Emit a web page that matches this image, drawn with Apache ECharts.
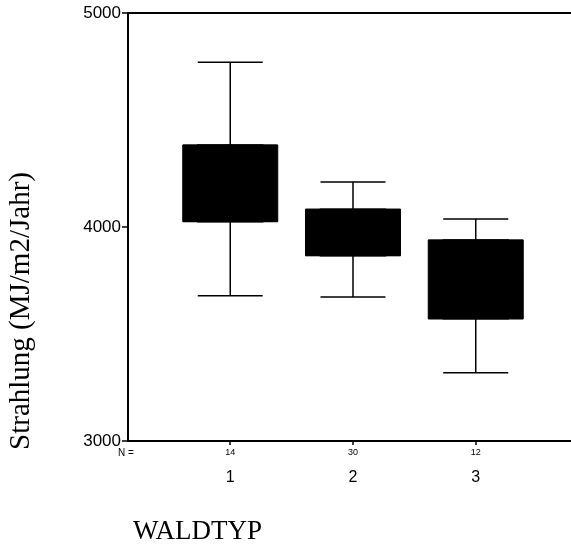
<!DOCTYPE html>
<html>
<head>
<meta charset="utf-8">
<script src="https://cdn.jsdelivr.net/npm/echarts@6/dist/echarts.min.js"></script>
<style>
  html, body { margin: 0; padding: 0; background: #fff; }
  #chart { width: 571px; height: 548px; }
</style>
</head>
<body>
<div id="chart"></div>
<script>
// Strahlung by Waldtyp, boxplot
var categories = ['1', '2', '3'];
var catPos = [1, 2, 3];
var nCounts = [14, 30, 12];
var mins = [3679, 3673, 3319];
var q1s = [4025, 3866, 3571];
var medians = [4200, 3980, 3780];
var q3s = [4383, 4083, 3939];
var maxs = [4770, 4210, 4037];

var whiskerData = catPos.map(function (x, i) {
  return [x, mins[i], q1s[i], medians[i], q3s[i], maxs[i]];
});
// the box itself, caps collapse onto the box edges
var boxData = catPos.map(function (x, i) {
  return [x, q1s[i], q1s[i], medians[i], q3s[i], q3s[i]];
});

var chart = echarts.init(document.getElementById('chart'));

var xMin = 0.167, xMax = 3.776;

var option = {
  animation: false,
  grid: { left: 128, right: 0, top: 13, bottom: 107 },
  xAxis: [{
    type: 'value',
    min: xMin,
    max: xMax,
    splitLine: { show: false },
    axisLine: { lineStyle: { color: '#000', width: 2 } },
    axisTick: {
      customValues: catPos,
      length: 4,
      lineStyle: { color: '#000', width: 1.5 }
    },
    axisLabel: {
      customValues: catPos,
      margin: 5,
      formatter: function (v) {
        var i = catPos.indexOf(v);
        if (i < 0) return '';
        return '{n|' + nCounts[i] + '}\n{c|' + categories[i] + '}';
      },
      rich: {
        n: { fontFamily: 'Arial, "Liberation Sans"', fontSize: 9, lineHeight: 14, color: '#000' },
        c: { fontFamily: 'Arial, "Liberation Sans"', fontSize: 16, lineHeight: 36, color: '#000' }
      }
    }
  }, {
    type: 'value',
    position: 'top',
    min: xMin,
    max: xMax,
    splitLine: { show: false },
    axisLine: { show: true, lineStyle: { color: '#000', width: 2 } },
    axisTick: { show: false },
    axisLabel: { show: false }
  }],
  yAxis: {
    type: 'value',
    min: 3000,
    max: 5000,
    interval: 1000,
    splitLine: { show: false },
    axisLine: { show: true, lineStyle: { color: '#000', width: 2 } },
    axisTick: { show: true, length: 6, lineStyle: { color: '#000', width: 1.5 } },
    axisLabel: {
      margin: 7,
      color: '#000',
      fontFamily: 'Arial, "Liberation Sans"',
      fontSize: 17,
      formatter: function (v) { return String(v); }
    }
  },
  graphic: [{
    type: 'text',
    x: 21,
    y: 311,
    rotation: Math.PI / 2,
    style: {
      text: 'Strahlung (MJ/m2/Jahr)',
      fill: '#000',
      font: '29px "Liberation Serif", "Times New Roman", serif',
      align: 'center',
      verticalAlign: 'middle'
    }
  }, {
    type: 'text',
    x: 118,
    y: 453,
    style: {
      text: 'N =',
      fill: '#000',
      font: '10px Arial, "Liberation Sans"',
      align: 'left',
      verticalAlign: 'middle'
    }
  }, {
    type: 'text',
    x: 133,
    y: 532,
    style: {
      text: 'WALDTYP',
      fill: '#000',
      font: '27px "Liberation Serif", "Times New Roman", serif',
      align: 'left',
      verticalAlign: 'middle'
    }
  }],
  series: [{
    name: 'whisker',
    type: 'boxplot',
    xAxisIndex: 0,
    boxWidth: [65, 65],
    itemStyle: { color: '#000', borderColor: '#000', borderWidth: 1.5 },
    data: whiskerData
  }, {
    name: 'box',
    type: 'boxplot',
    xAxisIndex: 1,
    boxWidth: [95, 95],
    itemStyle: { color: '#000', borderColor: '#000', borderWidth: 1 },
    data: boxData
  }]
};

chart.setOption(option);
window.onresize = chart.resize;
</script>
</body>
</html>
